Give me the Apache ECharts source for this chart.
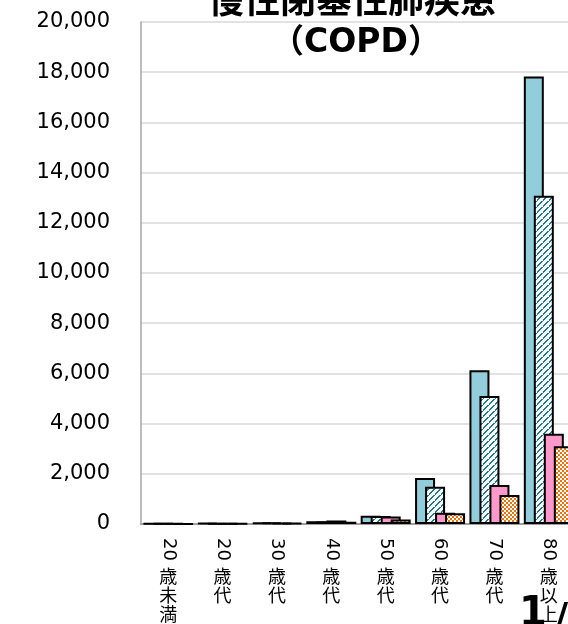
<!DOCTYPE html>
<html>
<head>
<meta charset="utf-8">
<script src="https://cdn.jsdelivr.net/npm/echarts@6/dist/echarts.min.js"></script>
<style>
html,body{margin:0;padding:0;background:#fff;overflow:hidden;width:568px;height:624px;}
#chart{width:620px;height:624px;}
</style>
</head>
<body>
<div id="chart"></div>
<script>
// ---- data ----
const categories = ['20歳未満', '20歳代', '30歳代', '40歳代', '50歳代', '60歳代', '70歳代', '80歳以上'];
const seriesA = [20, 30, 60, 110, 330, 1830, 6130, 17830];
const seriesB = [15, 25, 50, 100, 320, 1480, 5100, 13080];
const seriesC = [10, 20, 45, 140, 300, 450, 1550, 3600];
const seriesD = [8, 15, 35, 90, 180, 430, 1160, 3100];
const yTicks = { min: 0, max: 20000, interval: 2000 };
const titleLine1 = '慢性閉塞性肺疾患';
const titleLine2 = '（COPD）';

// ---- patterns ----
function hatchPattern() {
  const c = document.createElement('canvas');
  c.width = 6; c.height = 6;
  const g = c.getContext('2d');
  g.fillStyle = '#ffffff'; g.fillRect(0, 0, 6, 6);
  g.fillStyle = '#1f7a93';
  const pts = [[0,5],[1,4],[0,4],[1,3],[2,3],[3,1],[4,0],[3,2],[4,1],[5,5],[5,0]];
  pts.forEach(p => g.fillRect(p[0], p[1], 1, 1));
  return c;
}
function checkerPattern() {
  const c = document.createElement('canvas');
  c.width = 4; c.height = 4;
  const g = c.getContext('2d');
  g.fillStyle = '#ffffff'; g.fillRect(0, 0, 4, 4);
  g.fillStyle = '#e8730f';
  g.fillRect(0, 0, 2, 2);
  g.fillRect(2, 2, 2, 2);
  return c;
}

const chart = echarts.init(document.getElementById('chart'), null, { renderer: 'canvas' });
const fontLatin = '"DejaVu Sans", "Noto Sans CJK JP", sans-serif';
const fontCJK = '"Noto Sans CJK JP", "DejaVu Sans", sans-serif';

function digitsPart(v) { const m = v.match(/^\d+/); return m ? m[0] : ''; }
function restPart(v) { return v.replace(/^\d+/, '').split('').join('\n'); }

const barBase = { type: 'bar', barWidth: 20, barGap: '-50%' };
const border = { borderColor: '#000', borderWidth: 2 };

const option = {
  animation: false,
  backgroundColor: '#fff',
  grid: { left: 141, top: 22, bottom: 97, width: 435, containLabel: false },
  xAxis: [
    {
      type: 'category', data: categories, position: 'bottom',
      axisLine: { show: true, lineStyle: { color: '#a0a0a0', width: 2 } },
      axisTick: { show: false },
      axisLabel: { rotate: -90, margin: 14, formatter: digitsPart, color: '#000', fontSize: 18, fontFamily: fontLatin, interval: 0 },
      splitLine: { show: false }
    },
    {
      type: 'category', data: categories, position: 'bottom', offset: 35, gridIndex: 0,
      axisLine: { show: false }, axisTick: { show: false }, splitLine: { show: false },
      axisLabel: { margin: 8, formatter: restPart, color: '#000', fontSize: 18, lineHeight: 19, fontFamily: fontCJK, interval: 0 }
    }
  ],
  yAxis: {
    type: 'value', min: yTicks.min, max: yTicks.max, interval: yTicks.interval,
    axisLine: { show: true, lineStyle: { color: '#a6a6a6', width: 1.5 } },
    axisTick: { show: false },
    splitLine: { show: true, lineStyle: { color: '#d9d9d9', width: 1.5 } },
    axisLabel: { margin: 31, color: '#000', fontSize: 21, fontFamily: fontLatin,
      formatter: v => v.toLocaleString('en-US') }
  },
  series: [
    Object.assign({}, barBase, { name: 'A', data: seriesA, itemStyle: Object.assign({ color: '#92cddc' }, border) }),
    Object.assign({}, barBase, { name: 'B', data: seriesB, itemStyle: Object.assign({ color: { image: hatchPattern(), repeat: 'repeat' } }, border) }),
    Object.assign({}, barBase, { name: 'C', data: seriesC, itemStyle: Object.assign({ color: '#ff99cc' }, border) }),
    Object.assign({}, barBase, { name: 'D', data: seriesD, itemStyle: Object.assign({ color: { image: checkerPattern(), repeat: 'repeat' } }, border) })
  ],
  graphic: [
    { type: 'text', x: 352, y: -1, style: { text: titleLine1, textAlign: 'center', textVerticalAlign: 'middle', font: 'bold 36px ' + fontCJK, fill: '#000' } },
    { type: 'text', x: 356, y: 43, style: { text: titleLine2, textAlign: 'center', textVerticalAlign: 'middle', font: 'bold 33px ' + fontLatin, fill: '#000' } },
    { type: 'text', x: 519, y: 595, style: { text: '1', font: 'bold 40px ' + fontLatin, fill: '#000' } },
    { type: 'text', x: 555, y: 601, style: { text: '/', font: 'bold 36px ' + fontLatin, fill: '#000' } }
  ]
};
chart.setOption(option);
</script>
</body>
</html>
